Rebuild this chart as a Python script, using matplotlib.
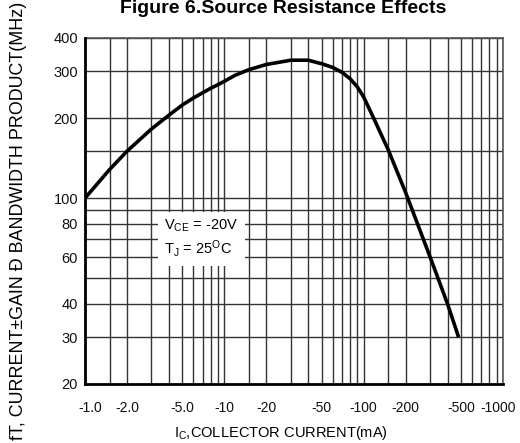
import matplotlib
matplotlib.use("Agg")
import matplotlib.pyplot as plt
from matplotlib.ticker import FixedLocator, FixedFormatter, NullLocator, NullFormatter
from matplotlib.transforms import ScaledTranslation

plt.rcParams['font.family'] = ['Liberation Sans', 'DejaVu Sans']

# Data (|Ic| in mA, fT in MHz)
current_ma = [1, 1.5, 2, 3, 4, 5, 6, 7, 8, 9, 10, 12, 15, 20, 30, 40, 50, 60, 70, 80, 90,
              100, 120, 150, 200, 300, 400, 480]
ft_mhz = [100, 128, 150, 182, 205, 224, 238, 249, 259, 267, 275, 290, 304, 318, 330, 330,
          320, 310, 297, 281, 262, 240, 196, 152, 105, 60, 40, 30]

x_ticks = [1, 2, 5, 10, 20, 50, 100, 200, 500, 1000]
x_tick_labels = ['-1.0', '-2.0', '-5.0', '-10', '-20', '-50', '-100', '-200', '-500', '-1000']
y_ticks = [20, 30, 40, 60, 80, 100, 200, 300, 400]
y_tick_labels = ['20', '30', '40', '60', '80', '100', '200', '300', '400']
x_grid = [1.5, 2, 3, 4, 5, 6, 7, 8, 9, 10, 15, 20, 30, 40, 50, 60, 70, 80, 90, 100,
          150, 200, 300, 400, 500, 600, 700, 800, 900, 1000]
y_grid = [30, 40, 50, 60, 70, 80, 90, 100, 150, 200, 300, 400]

fig = plt.figure(figsize=(5.2, 4.43), dpi=100)
ax = fig.add_axes([85/520, 1-384/443, (503-85)/520, (384-38)/443])
ax.set_xscale('log')
ax.set_yscale('log')
ax.set_xlim(1, 1000)
ax.set_ylim(20, 400)

for gx in x_grid:
    ax.axvline(gx, color='#333333', lw=1.0, zorder=1)
for gy in y_grid:
    ax.axhline(gy, color='#333333', lw=1.0, zorder=1)

ax.plot(current_ma, ft_mhz, color='black', lw=2.6, zorder=4, solid_capstyle='butt')

ax.xaxis.set_major_locator(FixedLocator(x_ticks))
ax.xaxis.set_major_formatter(FixedFormatter(x_tick_labels))
ax.xaxis.set_minor_locator(NullLocator())
ax.xaxis.set_minor_formatter(NullFormatter())
ax.yaxis.set_major_locator(FixedLocator(y_ticks))
ax.yaxis.set_major_formatter(FixedFormatter(y_tick_labels))
ax.yaxis.set_minor_locator(NullLocator())
ax.yaxis.set_minor_formatter(NullFormatter())
ax.tick_params(axis='both', length=0, labelsize=10.5, colors='#111111')
ax.tick_params(axis='x', pad=12, labelsize=10)
ax.tick_params(axis='y', pad=5)

fig.canvas.draw()
xlabels = ax.get_xticklabels()
xlabels[0].set_transform(xlabels[0].get_transform() + ScaledTranslation(5/100, 0, fig.dpi_scale_trans))
xlabels[-1].set_transform(xlabels[-1].get_transform() + ScaledTranslation(-5/100, 0, fig.dpi_scale_trans))

for s in ['left', 'bottom']:
    ax.spines[s].set_linewidth(2.0)
    ax.spines[s].set_color('black')
    ax.spines[s].set_zorder(5)
for s in ['top', 'right']:
    ax.spines[s].set_linewidth(1.2)
    ax.spines[s].set_color('#555555')

# annotation box
ax.text(0.19, 0.48, '$\\mathregular{V_{CE}}$ = -20V\n$\\mathregular{T_{J}}$ = 25$\\mathregular{^{O}}$C',
        transform=ax.transAxes, fontsize=10.5, va='top', ha='left', zorder=6,
        linespacing=1.25,
        bbox=dict(boxstyle='square,pad=0.45', facecolor='white', edgecolor='none'))

fig.text(283/520, 1-13/443, 'Figure 6.Source Resistance Effects', ha='center',
         va='baseline', fontsize=14, fontweight='bold')
fig.text(281/520, 1-437/443, '$\\mathregular{I_C}$,COLLECTOR CURRENT(mA)', ha='center',
         va='baseline', fontsize=10.5)
fig.text(19/520, 3/443, 'fT, CURRENT\u00b1GAIN \u00d0 BANDWIDTH PRODUCT(MHz)', rotation=90,
         ha='center', va='bottom', fontsize=12.9)

fig.savefig('out.png', dpi=100)
